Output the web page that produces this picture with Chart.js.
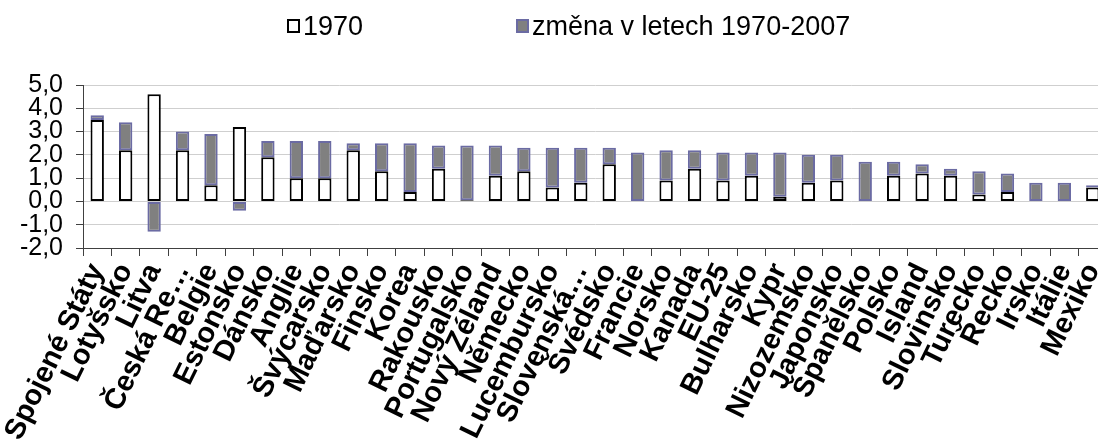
<!DOCTYPE html>
<html>
<head>
<meta charset="utf-8">
<script src="https://cdn.jsdelivr.net/npm/chart.js@4/dist/chart.umd.min.js"></script>
<style>
  html, body { margin: 0; padding: 0; background: #fff; overflow: hidden; width: 1098px; height: 448px; }
  #wrap { width: 1110px; height: 448px; }
</style>
</head>
<body>
<div id="wrap"><canvas id="c" width="1110" height="448"></canvas></div>
<script>
const categories = ['Spojené Státy','Lotyšsko','Litva','Česká Re…','Belgie','Estonsko','Dánsko','Anglie','Švýcarsko','Maďarsko','Finsko','Korea','Rakousko','Portugalsko','Nový Zéland','Německo','Lucembursko','Slovenská…','Švédsko','Francie','Norsko','Kanada','EU-25','Bulharsko','Kypr','Nizozemsko','Japonsko','Španělsko','Polsko','Island','Slovinsko','Turecko','Řecko','Irsko','Itálie','Mexiko'];
const values1970 = [3.5,2.2,4.6,2.2,0.7,3.2,1.9,1.0,1.0,2.2,1.3,0.4,1.4,0.05,1.1,1.3,0.6,0.8,1.6,0,0.9,1.4,0.9,1.1,0.2,0.8,0.9,0,1.1,1.2,1.1,0.3,0.4,0,0,0.6];
const valuesChange = [0.2,1.2,-1.3,0.8,2.2,-0.4,0.7,1.6,1.6,0.3,1.2,2.1,1.0,2.35,1.3,1.0,1.7,1.5,0.7,2.1,1.3,0.8,1.2,1.0,1.9,1.2,1.1,1.7,0.6,0.4,0.3,1.0,0.8,0.8,0.8,0.1];
const seriesNames = ['1970', 'změna v letech 1970-2007'];
const yTicks = { min: -2, max: 5, step: 1 };

const FONT = '"Liberation Sans", Arial, sans-serif';
const LEGEND_POS = [{ box: 288, text: 303 }, { box: 517, text: 532 }];

const legendPlugin = {
  id: 'topLegend',
  afterDraw(chart) {
    const ctx = chart.ctx;
    ctx.save();
    ctx.font = '27px ' + FONT;
    ctx.textBaseline = 'alphabetic';
    ctx.textAlign = 'left';
    chart.data.datasets.forEach((ds, i) => {
      const p = LEGEND_POS[i];
      ctx.fillStyle = ds.backgroundColor;
      ctx.strokeStyle = ds.borderColor;
      ctx.lineWidth = 2;
      ctx.fillRect(p.box, 20, 11, 12);
      ctx.strokeRect(p.box, 20, 11, 12);
      ctx.fillStyle = '#000';
      ctx.fillText(ds.label, p.text, 35);
    });
    ctx.restore();
  }
};

new Chart(document.getElementById('c'), {
  type: 'bar',
  data: {
    labels: categories,
    datasets: [
      { label: seriesNames[0], data: values1970, backgroundColor: '#ffffff', borderColor: '#000000', borderWidth: 2, borderSkipped: false, barPercentage: 0.47, categoryPercentage: 1.0 },
      { label: seriesNames[1], data: valuesChange, backgroundColor: '#808080', borderColor: '#6b6ba3', borderWidth: 2, borderSkipped: false, barPercentage: 0.47, categoryPercentage: 1.0 }
    ]
  },
  options: {
    responsive: false,
    animation: false,
    devicePixelRatio: 1,
    layout: { padding: { top: 85, right: 3, left: 0, bottom: 0 } },
    plugins: { legend: { display: false }, tooltip: { enabled: false } },
    scales: {
      x: {
        stacked: true,
        offset: true,
        grid: { display: true, drawOnChartArea: false, drawTicks: true, tickLength: 8, offset: true, color: '#404040', tickColor: '#404040' },
        border: { display: true, color: '#404040', width: 1 },
        ticks: { autoSkip: false, minRotation: 64, maxRotation: 64, padding: 2, color: '#000', font: { family: FONT, size: 29, weight: 'bold' } },
        afterFit(scale) { scale.height = 200; scale.paddingLeft = 0; scale.paddingRight = 0; }
      },
      y: {
        stacked: true,
        min: yTicks.min, max: yTicks.max,
        grid: { color: '#cfcfcf', lineWidth: 1, tickColor: '#404040', tickLength: 7 },
        border: { display: true, color: '#404040', width: 1 },
        ticks: { autoSkip: false, stepSize: yTicks.step, padding: 13, color: '#000', font: { family: FONT, size: 25 },
          callback: v => v.toFixed(1).replace('.', ',') },
        afterFit(scale) { scale.width = 83; }
      }
    }
  },
  plugins: [legendPlugin]
});
</script>
</body>
</html>
